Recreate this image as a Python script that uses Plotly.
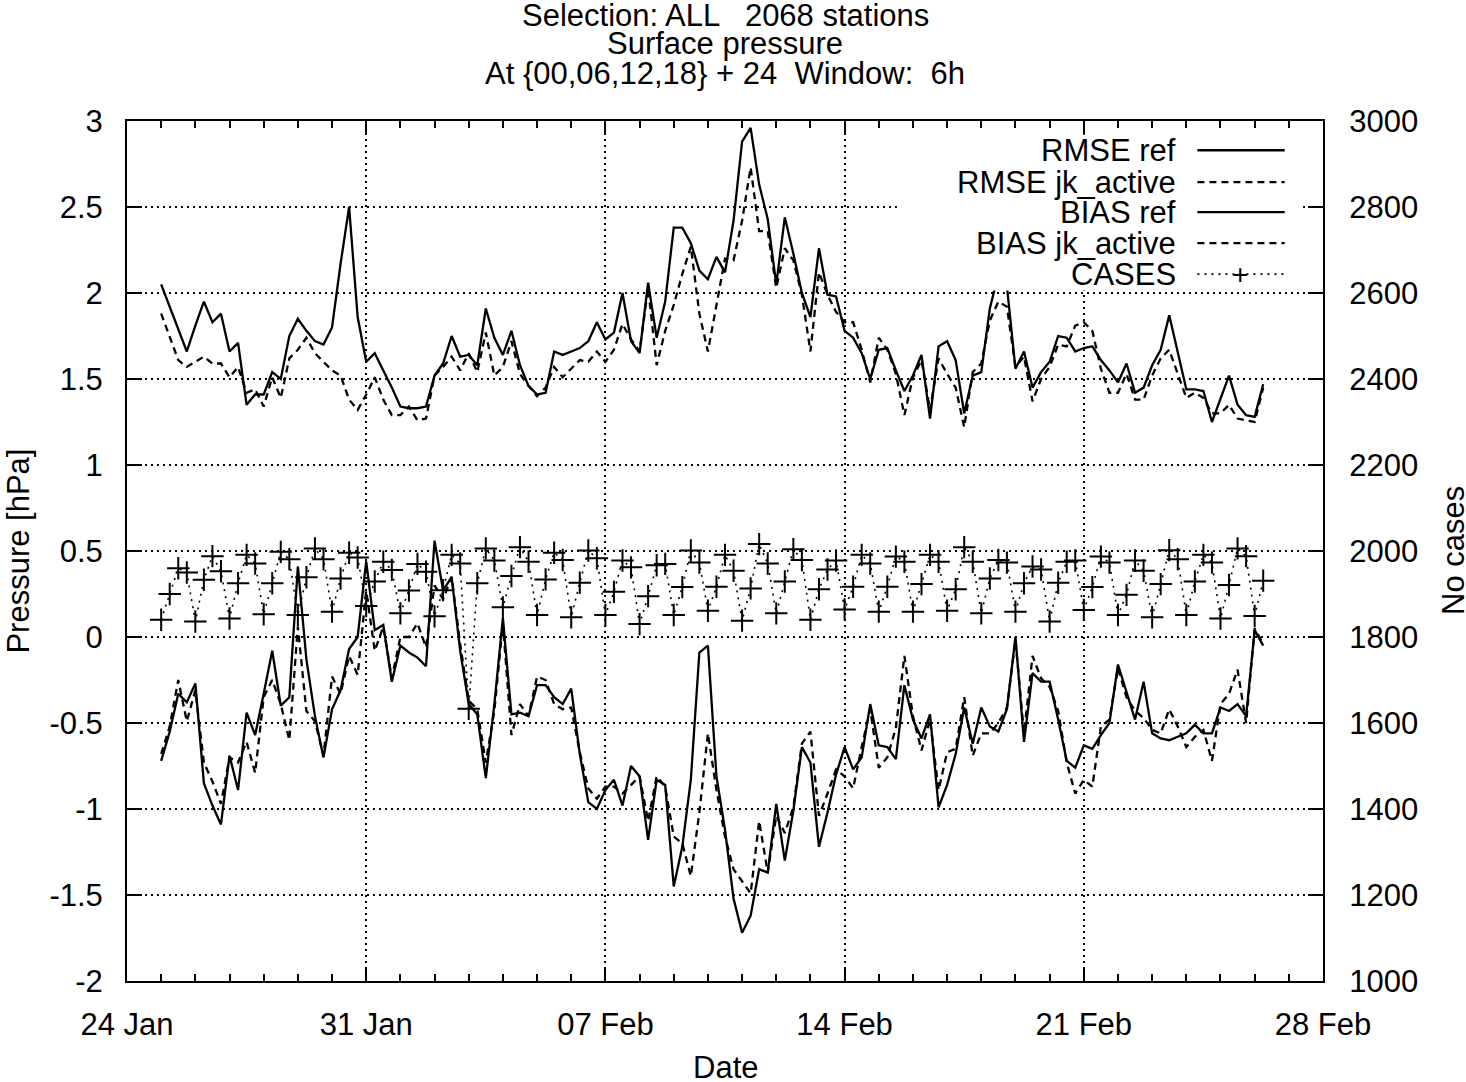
import pandas as pd
import plotly.graph_objects as go

# 6-hourly verification times, 25 Jan 00 UTC .. 26 Feb 06 UTC
times = pd.date_range("2009-01-25 00:00", periods=130, freq="6h")

rmse_ref = [2.05, 1.92, 1.79, 1.66, 1.81, 1.95, 1.83, 1.88, 1.66, 1.71,
            1.35, 1.41, 1.41, 1.54, 1.50, 1.75, 1.85, 1.78, 1.72, 1.70,
            1.80, 2.17, 2.50, 1.86, 1.60, 1.65, 1.55, 1.45, 1.34, 1.33,
            1.33, 1.34, 1.52, 1.59, 1.75, 1.63, 1.64, 1.58, 1.91, 1.74,
            1.64, 1.78, 1.58, 1.46, 1.41, 1.42, 1.66, 1.64, 1.66, 1.68,
            1.72, 1.83, 1.73, 1.77, 2.00, 1.72, 1.65, 2.06, 1.74, 1.95,
            2.38, 2.38, 2.29, 2.13, 2.08, 2.21, 2.12, 2.42, 2.88, 2.96,
            2.63, 2.43, 2.05, 2.44, 2.23, 2.00, 1.86, 2.26, 1.99, 1.98,
            1.78, 1.74, 1.65, 1.50, 1.67, 1.68, 1.55, 1.43, 1.52, 1.64,
            1.27, 1.69, 1.72, 1.61, 1.30, 1.52, 1.54, 1.91, 2.11, 2.04,
            1.56, 1.66, 1.45, 1.54, 1.60, 1.75, 1.74, 1.66, 1.68, 1.69,
            1.61, 1.55, 1.48, 1.59, 1.42, 1.45, 1.58, 1.67, 1.87, 1.65,
            1.44, 1.44, 1.43, 1.25, 1.38, 1.52, 1.35, 1.29, 1.28, 1.47]

rmse_jk = [1.88, 1.74, 1.61, 1.57, 1.60, 1.63, 1.59, 1.59, 1.51, 1.57,
           1.42, 1.44, 1.34, 1.51, 1.39, 1.62, 1.67, 1.74, 1.65, 1.60,
           1.55, 1.52, 1.38, 1.32, 1.41, 1.51, 1.38, 1.29, 1.29, 1.34,
           1.26, 1.27, 1.52, 1.57, 1.63, 1.55, 1.65, 1.54, 1.77, 1.52,
           1.57, 1.72, 1.53, 1.46, 1.40, 1.45, 1.57, 1.51, 1.56, 1.61,
           1.60, 1.66, 1.60, 1.67, 1.82, 1.73, 1.66, 2.03, 1.58, 1.78,
           1.93, 2.11, 2.27, 1.88, 1.66, 1.93, 2.20, 2.19, 2.42, 2.73,
           2.36, 2.36, 2.03, 2.26, 2.19, 1.99, 1.66, 2.12, 1.99, 1.89,
           1.83, 1.83, 1.67, 1.48, 1.74, 1.67, 1.53, 1.29, 1.51, 1.61,
           1.32, 1.62, 1.53, 1.45, 1.22, 1.54, 1.59, 1.84, 1.95, 1.92,
           1.57, 1.63, 1.37, 1.50, 1.57, 1.70, 1.69, 1.81, 1.83, 1.78,
           1.56, 1.42, 1.42, 1.53, 1.38, 1.38, 1.52, 1.62, 1.67, 1.53,
           1.39, 1.42, 1.39, 1.30, 1.30, 1.35, 1.27, 1.26, 1.25, 1.45]

bias_ref = [-0.72, -0.55, -0.33, -0.38, -0.27, -0.85, -0.98, -1.09, -0.69, -0.89,
            -0.44, -0.57, -0.33, -0.08, -0.40, -0.35, 0.41, -0.13, -0.46, -0.70,
            -0.42, -0.31, -0.07, 0.00, 0.44, 0.04, 0.07, -0.26, -0.05, -0.09,
            -0.12, -0.17, 0.56, 0.27, 0.35, -0.08, -0.39, -0.45, -0.82, -0.39,
            0.11, -0.45, -0.44, -0.46, -0.28, -0.28, -0.35, -0.39, -0.30, -0.68,
            -0.96, -1.00, -0.89, -0.83, -0.98, -0.75, -0.81, -1.18, -0.83, -0.86,
            -1.45, -1.22, -0.83, -0.09, -0.05, -0.81, -1.12, -1.52, -1.72, -1.62,
            -1.35, -1.37, -0.97, -1.30, -1.01, -0.64, -0.73, -1.22, -1.02, -0.80,
            -0.64, -0.77, -0.70, -0.39, -0.63, -0.64, -0.71, -0.28, -0.48, -0.59,
            -0.45, -0.99, -0.86, -0.68, -0.41, -0.62, -0.41, -0.52, -0.55, -0.42,
            0.00, -0.61, -0.21, -0.26, -0.26, -0.48, -0.72, -0.76, -0.63, -0.65,
            -0.57, -0.50, -0.16, -0.32, -0.48, -0.26, -0.56, -0.59, -0.60, -0.58,
            -0.56, -0.51, -0.56, -0.56, -0.41, -0.43, -0.39, -0.46, 0.04, -0.05]

bias_jk = [-0.68, -0.52, -0.25, -0.49, -0.31, -0.73, -0.84, -0.97, -0.70, -0.73,
           -0.61, -0.79, -0.35, -0.25, -0.39, -0.60, 0.06, -0.43, -0.49, -0.69,
           -0.23, -0.33, -0.11, -0.22, 0.27, -0.08, 0.06, -0.24, 0.00, 0.00,
           0.08, -0.06, 0.30, 0.22, 0.35, -0.04, -0.37, -0.42, -0.73, -0.43,
           0.08, -0.57, -0.39, -0.46, -0.23, -0.25, -0.39, -0.42, -0.41, -0.67,
           -0.88, -0.94, -0.87, -0.87, -0.91, -0.86, -0.81, -1.07, -0.81, -0.87,
           -1.16, -1.20, -1.39, -1.02, -0.56, -0.89, -1.16, -1.35, -1.42, -1.49,
           -1.07, -1.37, -1.04, -1.14, -0.99, -0.62, -0.55, -1.04, -0.91, -0.77,
           -0.81, -0.88, -0.64, -0.42, -0.76, -0.70, -0.53, -0.11, -0.46, -0.66,
           -0.48, -0.89, -0.67, -0.65, -0.35, -0.69, -0.56, -0.56, -0.50, -0.41,
           -0.02, -0.56, -0.11, -0.24, -0.29, -0.43, -0.73, -0.91, -0.83, -0.87,
           -0.52, -0.48, -0.18, -0.35, -0.43, -0.47, -0.54, -0.56, -0.42, -0.52,
           -0.64, -0.58, -0.54, -0.72, -0.39, -0.33, -0.19, -0.50, 0.05, -0.04]

cases = [1840, 1900, 1960, 1950, 1836, 1933, 1988, 1953, 1843, 1925,
         1991, 1971, 1853, 1925, 1998, 1981, 1851, 1939, 2006, 1981,
         1859, 1936, 1996, 1985, 1872, 1929, 1975, 1956, 1855, 1908,
         1970, 1952, 1848, 1909, 1991, 1971, 1633, 1925, 2006, 1978,
         1869, 1942, 2009, 1975, 1851, 1934, 1996, 1979, 1846, 1926,
         2001, 1983, 1851, 1905, 1978, 1962, 1830, 1895, 1967, 1970,
         1851, 1916, 2001, 1973, 1861, 1917, 1991, 1954, 1838, 1913,
         2016, 1971, 1855, 1929, 2004, 1979, 1840, 1911, 1957, 1978,
         1864, 1917, 1991, 1971, 1859, 1917, 1987, 1975, 1859, 1923,
         1991, 1975, 1861, 1911, 2009, 1975, 1855, 1936, 1979, 1973,
         1859, 1925, 1964, 1957, 1836, 1926, 1975, 1978, 1863, 1916,
         1987, 1973, 1851, 1898, 1978, 1954, 1846, 1923, 2002, 1981,
         1851, 1929, 1991, 1973, 1843, 1921, 2006, 1988, 1849, 1931]

y_ticks = [-2, -1.5, -1, -0.5, 0, 0.5, 1, 1.5, 2, 2.5, 3]
y_labels = ["-2", "-1.5", "-1", "-0.5", "0", "0.5", "1", "1.5", "2", "2.5", "3"]
x_ticks = ["2009-01-24", "2009-01-31", "2009-02-07", "2009-02-14", "2009-02-21", "2009-02-28"]
x_labels = ["24 Jan", "31 Jan", "07 Feb", "14 Feb", "21 Feb", "28 Feb"]

title_lines = ["Selection: ALL   2068 stations", "Surface pressure",
               "At {00,06,12,18} + 24  Window:  6h"]
legend_names = ["RMSE ref", "RMSE jk_active", "BIAS ref", "BIAS jk_active", "CASES"]

FONT = "Liberation Sans, Arial, sans-serif"
FS = 31
LW = 2.3
DASH = "7px,5px"
DOTS = "2px,5px"

fig = go.Figure()
fig.add_trace(go.Scatter(x=times, y=rmse_ref, mode="lines", line=dict(color="black", width=LW)))
fig.add_trace(go.Scatter(x=times, y=rmse_jk, mode="lines", line=dict(color="black", width=LW, dash=DASH)))
fig.add_trace(go.Scatter(x=times, y=bias_ref, mode="lines", line=dict(color="black", width=LW)))
fig.add_trace(go.Scatter(x=times, y=bias_jk, mode="lines", line=dict(color="black", width=LW, dash=DASH)))
fig.add_trace(go.Scatter(x=times, y=cases, yaxis="y2", mode="lines+markers",
                         line=dict(color="black", width=1.6, dash=DOTS),
                         marker=dict(symbol="cross-thin", size=16, line=dict(color="black", width=2))))

grid = dict(showgrid=True, gridcolor="black", gridwidth=1.5, griddash="2px,4px")

fig.update_layout(
    width=1466, height=1082,
    margin=dict(l=127, r=143, t=121, b=101),
    paper_bgcolor="white", plot_bgcolor="white",
    font=dict(family=FONT, size=FS, color="black"),
    showlegend=False,
    xaxis=dict(type="date", range=["2009-01-24", "2009-02-28"],
               tickvals=x_ticks, ticktext=x_labels,
               ticks="inside", ticklen=14, tickwidth=1.5, tickcolor="black",
               minor=dict(dtick=86400000, ticks="inside", ticklen=7, tickwidth=1.5,
                          tickcolor="black", showgrid=False),
               showline=True, linecolor="black", linewidth=2, mirror="ticks",
               ticklabelstandoff=15, zeroline=False, **grid),
    yaxis=dict(range=[-2, 3], tickvals=y_ticks, ticktext=y_labels,
               ticks="inside", ticklen=15, tickwidth=1.5, tickcolor="black",
               showline=True, linecolor="black", linewidth=2,
               ticklabelstandoff=16, zeroline=False, **grid),
    yaxis2=dict(range=[1000, 3000], dtick=200, overlaying="y", side="right",
                ticks="inside", ticklen=15, tickwidth=1.5, tickcolor="black",
                showline=True, linecolor="black", linewidth=2,
                ticklabelstandoff=18, showgrid=False, zeroline=False),
)

# title lines (gnuplot packs them tightly)
for txt, yp in zip(title_lines, [1.1221, 1.0896, 1.0547]):
    fig.add_annotation(text=txt, x=0.5, y=yp, xref="paper", yref="paper",
                       showarrow=False, xanchor="center", yanchor="middle")

# axis titles
fig.add_annotation(text="Date", x=0.5, y=-0.101, xref="paper", yref="paper",
                   showarrow=False, yanchor="middle")
fig.add_annotation(text="Pressure [hPa]", x=-0.0915, y=0.5, xref="paper", yref="paper",
                   showarrow=False, textangle=-90, xanchor="center")
fig.add_annotation(text="No cases", x=1.1087, y=0.5, xref="paper", yref="paper",
                   showarrow=False, textangle=-90, xanchor="center")

# gnuplot-style key: opaque box, text right-aligned, sample to the right
fig.add_shape(type="rect", xref="paper", yref="paper", x0=0.646, x1=0.981, y0=0.803, y1=0.984,
              fillcolor="white", line=dict(width=0), layer="above")
key_y = [0.966, 0.929, 0.894, 0.858, 0.822]
key_dash = ["solid", DASH, "solid", DASH, DOTS]
for name, yp, dsh in zip(legend_names, key_y, key_dash):
    fig.add_annotation(text=name, x=0.879, y=yp, xref="paper", yref="paper",
                       showarrow=False, xanchor="right", yanchor="middle")
    fig.add_shape(type="line", xref="paper", yref="paper", x0=0.895, x1=0.968, y0=yp, y1=yp,
                  layer="above",
                  line=dict(color="black", width=1.6 if dsh == DOTS else LW, dash=dsh))
fig.add_annotation(text="+", x=0.931, y=key_y[4], xref="paper", yref="paper",
                   showarrow=False, xanchor="center", yanchor="middle", font=dict(size=28))

# page has a default body margin; drop it so the figure sits at the window corner
fig.write_html("out.html", config={"displayModeBar": False},
               post_script="document.body.style.margin='0';")
